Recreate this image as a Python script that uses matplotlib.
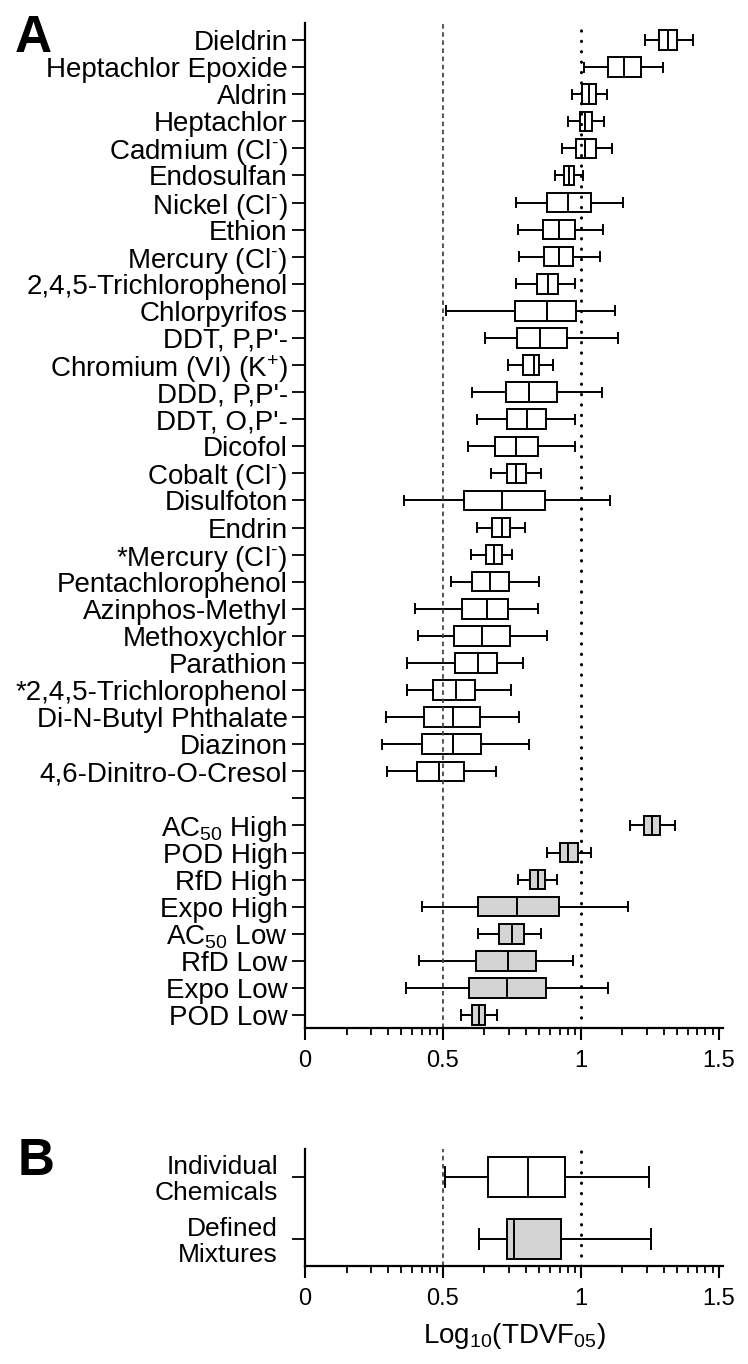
import numpy as np
import matplotlib
matplotlib.use("Agg")
import matplotlib.pyplot as plt
from matplotlib.ticker import FixedLocator

plt.rcParams['font.family'] = ['Liberation Sans', 'DejaVu Sans']
plt.rcParams['mathtext.fontset'] = 'custom'
plt.rcParams['mathtext.rm'] = 'Liberation Sans'
plt.rcParams['mathtext.it'] = 'Liberation Sans:italic'
plt.rcParams['mathtext.bf'] = 'Liberation Sans:bold'
plt.rcParams['mathtext.default'] = 'regular'

# Panel A - individual chemicals (log10 TDVF05 box stats)
chem_labels = ["Dieldrin", "Heptachlor Epoxide", "Aldrin", "Heptachlor",
               r"Cadmium (Cl$^{\text{-}}$)", "Endosulfan", r"Nickel (Cl$^{\text{-}}$)", "Ethion",
               r"Mercury (Cl$^{\text{-}}$)", "2,4,5-Trichlorophenol", "Chlorpyrifos",
               "DDT, P,P'-", "Chromium (VI) (K$^{+}$)", "DDD, P,P'-", "DDT, O,P'-",
               "Dicofol", r"Cobalt (Cl$^{\text{-}}$)", "Disulfoton", "Endrin",
               r"*Mercury (Cl$^{\text{-}}$)", "Pentachlorophenol", "Azinphos-Methyl",
               "Methoxychlor", "Parathion", "*2,4,5-Trichlorophenol",
               "Di-N-Butyl Phthalate", "Diazinon", "4,6-Dinitro-O-Cresol"]
chem_lo = [1.232, 1.013, 0.967, 0.955, 0.930, 0.905, 0.763, 0.771, 0.777, 0.763,
           0.512, 0.652, 0.737, 0.604, 0.624, 0.589, 0.675, 0.359, 0.623, 0.600,
           0.529, 0.397, 0.408, 0.371, 0.371, 0.293, 0.280, 0.297]
chem_q1 = [1.283, 1.099, 1.004, 0.995, 0.983, 0.937, 0.876, 0.864, 0.867, 0.842,
           0.761, 0.769, 0.789, 0.727, 0.733, 0.687, 0.731, 0.575, 0.679, 0.656,
           0.604, 0.568, 0.539, 0.543, 0.463, 0.430, 0.423, 0.407]
chem_med = [1.316, 1.156, 1.031, 1.014, 1.016, 0.958, 0.952, 0.920, 0.919, 0.882,
            0.876, 0.851, 0.831, 0.813, 0.804, 0.764, 0.766, 0.714, 0.714, 0.685,
            0.670, 0.658, 0.643, 0.628, 0.546, 0.536, 0.536, 0.486]
chem_q3 = [1.347, 1.217, 1.056, 1.041, 1.054, 0.975, 1.035, 0.979, 0.973, 0.918,
           0.983, 0.951, 0.847, 0.914, 0.874, 0.844, 0.801, 0.871, 0.744, 0.713,
           0.740, 0.736, 0.744, 0.697, 0.617, 0.635, 0.639, 0.575]
chem_hi = [1.407, 1.296, 1.095, 1.083, 1.111, 1.007, 1.151, 1.080, 1.071, 0.979,
           1.124, 1.136, 0.900, 1.076, 0.977, 0.977, 0.855, 1.105, 0.796, 0.752,
           0.848, 0.843, 0.877, 0.789, 0.748, 0.774, 0.812, 0.693]

# Panel A - grouped data types
grp_labels = ["AC$_{50}$ High", "POD High", "RfD High", "Expo High",
              "AC$_{50}$ Low", "RfD Low", "Expo Low", "POD Low"]
grp_lo = [1.179, 0.877, 0.773, 0.424, 0.628, 0.414, 0.366, 0.565]
grp_q1 = [1.227, 0.926, 0.816, 0.627, 0.702, 0.618, 0.595, 0.607]
grp_med = [1.256, 0.955, 0.843, 0.767, 0.749, 0.737, 0.732, 0.630]
grp_q3 = [1.286, 0.989, 0.871, 0.920, 0.795, 0.839, 0.872, 0.653]
grp_hi = [1.342, 1.037, 0.914, 1.169, 0.855, 0.971, 1.100, 0.697]

# Panel B
b_labels = ["Individual\nChemicals", "Defined\nMixtures"]
b_lo = [0.506, 0.630]
b_q1 = [0.662, 0.733]
b_med = [0.807, 0.757]
b_q3 = [0.941, 0.927]
b_hi = [1.248, 1.253]

LW = 1.4
GRAY = "#d4d4d4"


def make_stats(lo, q1, med, q3, hi):
    return [dict(whislo=a, q1=b, med=c, q3=d, whishi=e, fliers=[])
            for a, b, c, d, e in zip(lo, q1, med, q3, hi)]


def draw_boxes(ax, stats, pos, face, width, capw):
    ax.bxp(stats, positions=pos, orientation="horizontal", widths=width,
           capwidths=capw, patch_artist=True, showfliers=False, manage_ticks=False,
           boxprops=dict(facecolor=face, edgecolor="black", linewidth=LW),
           medianprops=dict(color="black", linewidth=LW),
           whiskerprops=dict(color="black", linewidth=LW),
           capprops=dict(color="black", linewidth=LW))


def style_axis(ax, xmax, ypad):
    ax.set_xlim(0, xmax)
    for s in ("top", "right"):
        ax.spines[s].set_visible(False)
    for s in ("left", "bottom"):
        ax.spines[s].set_linewidth(1.6)
    ax.set_xticks([0, 0.5, 1, 1.5])
    ax.set_xticklabels(["0", "0.5", "1", "1.5"])
    minor = [m + 0.5 * np.log10(k) for m in (0, 0.5, 1.0) for k in range(2, 10)]
    ax.xaxis.set_minor_locator(FixedLocator(minor))
    ax.tick_params(axis="x", which="major", length=8.5, width=1.5, labelsize=17, pad=7)
    ax.tick_params(axis="x", which="minor", length=5, width=1.3)
    ax.tick_params(axis="y", length=9.5, width=1.3, pad=ypad)
    ax.axvline(0.5, color="#444444", lw=1.3, linestyle=(0, (2.5, 2)))
    ax.axvline(1.0, color="black", lw=2.2, linestyle=(0, (0.1, 3.3)),
               dash_capstyle="round")


fig = plt.figure(figsize=(7.48, 13.64), dpi=100)

# ---- Panel A
axA = fig.add_axes([305 / 748, 1 - 1028 / 1364, 418 / 748, 1005 / 1364])
chem_pos = list(range(len(chem_labels)))
grp_pos = [len(chem_labels) + 1 + i for i in range(len(grp_labels))]
draw_boxes(axA, make_stats(chem_lo, chem_q1, chem_med, chem_q3, chem_hi),
           chem_pos, "white", 0.72, 0.34)
draw_boxes(axA, make_stats(grp_lo, grp_q1, grp_med, grp_q3, grp_hi),
           grp_pos, GRAY, 0.72, 0.34)
axA.set_yticks(chem_pos + [len(chem_labels)] + grp_pos)
axA.set_yticklabels(chem_labels + [""] + grp_labels, fontsize=20)
axA.set_ylim(grp_pos[-1] + 0.48, -0.63)
style_axis(axA, 1.515, 3)

# ---- Panel B
axB = fig.add_axes([305 / 748, 1 - 1266 / 1364, 418 / 748, 117 / 1364])
draw_boxes(axB, make_stats(b_lo, b_q1, b_med, b_q3, b_hi), [0, 1],
           None, 0.65, 0.32)
# fill colours: individual white, mixtures gray
for patch, fc in zip(axB.patches, ["white", GRAY]):
    patch.set_facecolor(fc)
axB.set_yticks([0, 1])
axB.set_yticklabels(b_labels, fontsize=19, linespacing=1.1)
axB.set_ylim(1.44, -0.45)
style_axis(axB, 1.515, 10)
axB.set_xlabel("Log$_{10}$(TDVF$_{05}$)", fontsize=20, labelpad=8)

fig.text(15 / 748, 1 - 52 / 1364, "A", fontsize=37, fontweight="bold", va="baseline")
fig.text(18 / 748, 1 - 1175 / 1364, "B", fontsize=37, fontweight="bold", va="baseline")

fig.savefig("out.png", dpi=100)
